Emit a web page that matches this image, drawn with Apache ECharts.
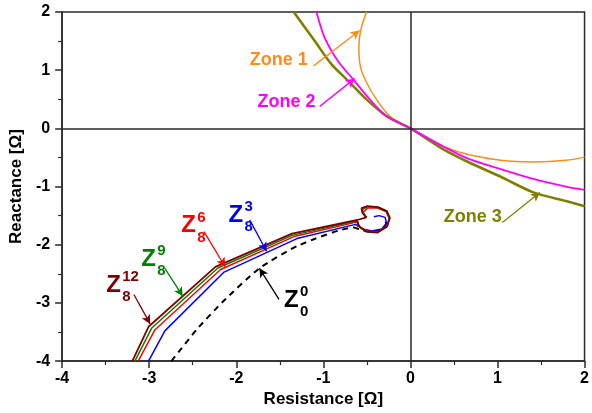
<!DOCTYPE html>
<html>
<head>
<meta charset="utf-8">
<script src="https://cdn.jsdelivr.net/npm/echarts@6/dist/echarts.min.js"></script>
<style>
html,body{margin:0;padding:0;background:#fff;}
#c{width:592px;height:413px;}
</style>
</head>
<body>
<div id="c"></div>
<script>
// Axis ticks
const xTicks = [-4, -3, -2, -1, 0, 1, 2];
const yTicks = [-4, -3, -2, -1, 0, 1, 2];

// Relay zone characteristics [R, X]
const zone1 = [[-0.506,2.0],[-0.573,1.67],[-0.592,1.39],[-0.573,1.052],[-0.498,0.771],[-0.386,0.489],[-0.236,0.209],[0,0],[0.2,-0.175],[0.401,-0.325],[0.663,-0.45],[1.037,-0.55],[1.412,-0.578],[1.787,-0.55],[2.0,-0.494]];
const zone2 = [[-1.079,2.0],[-0.985,1.558],[-0.835,1.164],[-0.648,0.826],[-0.461,0.489],[-0.273,0.209],[0,0],[0.401,-0.33],[0.663,-0.52],[1.037,-0.70],[1.412,-0.87],[1.787,-1.0],[2.0,-1.056]];
const zone3 = [[-1.34,2.0],[-1.098,1.5],[-0.91,1.108],[-0.722,0.826],[-0.498,0.489],[-0.273,0.209],[0,0],[0.40,-0.38],[0.663,-0.578],[1.037,-0.831],[1.412,-1.1],[1.787,-1.25],[2.0,-1.337]];

// Impedance trajectories [R, X]
const z00 = [[-2.745,-4.0],[-2.45,-3.45],[-2.146,-2.968],[-1.734,-2.405],[-1.284,-2.012],[-0.648,-1.703],[-0.573,-1.745],[-0.449,-1.776],[-0.336,-1.745],[-0.28,-1.65],[-0.29,-1.54]];
const z83 = [[-3.008,-4.0],[-2.82,-3.48],[-2.14,-2.47],[-1.303,-1.894],[-0.63,-1.65],[-0.55,-1.73],[-0.44,-1.765],[-0.33,-1.73],[-0.275,-1.63],[-0.29,-1.53],[-0.36,-1.50],[-0.42,-1.52]];
const z86 = [[-3.127,-4.0],[-2.933,-3.46],[-2.18,-2.425],[-1.337,-1.86],[-0.607,-1.607],[-0.58,-1.70],[-0.49,-1.77],[-0.37,-1.78],[-0.27,-1.68],[-0.245,-1.55],[-0.28,-1.43],[-0.38,-1.37],[-0.49,-1.37],[-0.55,-1.45],[-0.5,-1.53]];
const z89 = [[-3.165,-4.0],[-2.97,-3.43],[-2.21,-2.40],[-1.35,-1.835],[-0.607,-1.59],[-0.6,-1.68],[-0.5,-1.775],[-0.375,-1.785],[-0.265,-1.685],[-0.24,-1.545],[-0.275,-1.425],[-0.375,-1.36],[-0.49,-1.345],[-0.555,-1.4],[-0.51,-1.53]];
const z812 = [[-3.194,-4.0],[-3.008,-3.41],[-2.239,-2.38],[-1.36,-1.81],[-0.61,-1.575],[-0.506,-1.531],[-0.551,-1.455],[-0.562,-1.371],[-0.494,-1.337],[-0.371,-1.354],[-0.27,-1.422],[-0.236,-1.54],[-0.27,-1.691],[-0.382,-1.793],[-0.506,-1.776],[-0.596,-1.675],[-0.618,-1.574]];

const FONT = 'Arial, "Liberation Sans", sans-serif';

function arrow(from, to, color) {
  return [
    { coord: from, lineStyle: { color: color, width: 1.3, type: 'solid' } },
    { coord: to }
  ];
}

const chart = echarts.init(document.getElementById('c'), null, { renderer: 'canvas' });

const lineSeries = (name, data, color, width, extra) => Object.assign({
  name: name, type: 'line', data: data, showSymbol: false, symbol: 'none',
  clip: true, animation: false, silent: true,
  lineStyle: { color: color, width: width }
}, extra || {});

const mk = (items, color) => ({
  silent: true, animation: false, symbol: ['none', 'arrow'], symbolSize: [7, 9],
  label: { show: false },
  itemStyle: { color: color },
  lineStyle: { color: color, width: 1.3, type: 'solid' },
  data: items
});

const option = {
  animation: false,
  grid: { left: 55, right: 3, top: 12, bottom: 45, show: true, borderColor: '#2a2a2a', borderWidth: 1.5, backgroundColor: 'transparent' },
  xAxis: {
    type: 'value', min: xTicks[0], max: xTicks[xTicks.length - 1], interval: 1,
    axisLine: { show: true, onZero: false, lineStyle: { color: '#2a2a2a', width: 1.5 } },
    axisTick: { show: true, length: 7, lineStyle: { color: '#2a2a2a', width: 1.5 } },
    minorTick: { show: true, splitNumber: 2, length: 4, lineStyle: { color: '#2a2a2a', width: 1.2 } },
    splitLine: { show: false },
    axisLabel: { color: '#000', fontWeight: 'bold', fontSize: 16, fontFamily: FONT, margin: 9 },
    name: 'Resistance [Ω]', nameLocation: 'middle', nameGap: 28,
    nameTextStyle: { color: '#000', fontWeight: 'bold', fontSize: 17, fontFamily: FONT }
  },
  yAxis: {
    type: 'value', min: yTicks[0], max: yTicks[yTicks.length - 1], interval: 1,
    axisLine: { show: true, onZero: false, lineStyle: { color: '#2a2a2a', width: 1.5 } },
    axisTick: { show: true, length: 7, lineStyle: { color: '#2a2a2a', width: 1.5 } },
    minorTick: { show: true, splitNumber: 2, length: 4, lineStyle: { color: '#2a2a2a', width: 1.2 } },
    splitLine: { show: false },
    axisLabel: { color: '#000', fontWeight: 'bold', fontSize: 16, fontFamily: FONT, margin: 12 },
    name: 'Reactance [Ω]', nameLocation: 'middle', nameGap: 33,
    nameTextStyle: { color: '#000', fontWeight: 'bold', fontSize: 17, fontFamily: FONT }
  },
  series: [
    {
      name: 'axes0', type: 'scatter', data: [], silent: true, animation: false,
      markLine: {
        silent: true, animation: false, symbol: ['none', 'none'], label: { show: false },
        lineStyle: { color: '#2a2a2a', width: 1.5, type: 'solid' },
        data: [{ xAxis: 0 }, { yAxis: 0 }]
      }
    },
    lineSeries('Zone 1', zone1, '#ff8c1a', 1.5, { smooth: 0.3, markLine: mk([arrow([-1.112, 1.074], [-0.584, 1.681], '#ff8c1a')], '#ff8c1a') }),
    lineSeries('Zone 3', zone3, '#808000', 2.6, { smooth: 0.3, markLine: mk([arrow([1.056, -1.619], [1.487, -1.101], '#808000')], '#808000') }),
    lineSeries('Zone 2', zone2, '#ff00ff', 1.8, { smooth: 0.3, markLine: mk([arrow([-1.042, 0.378], [-0.640, 0.855], '#ff00ff')], '#ff00ff') }),
    lineSeries('Z00', z00, '#000000', 2, { lineStyle: { color: '#000', width: 2, type: [6, 5] }, smooth: 0.2, markLine: mk([arrow([-1.509, -2.939], [-1.734, -2.405], '#000')], '#000') }),
    lineSeries('Z83', z83, '#0000ff', 1.5, { markLine: mk([arrow([-1.846, -1.573], [-1.652, -2.113], '#0000ff')], '#0000ff') }),
    lineSeries('Z86', z86, '#ff0000', 1.5, { markLine: mk([arrow([-2.371, -1.776], [-2.127, -2.378], '#ff0000')], '#ff0000') }),
    lineSeries('Z89', z89, '#008000', 1.5, { markLine: mk([arrow([-2.82, -2.405], [-2.615, -2.884], '#008000')], '#008000') }),
    lineSeries('Z812', z812, '#800000', 1.8, { markLine: mk([arrow([-3.176, -2.855], [-2.989, -3.361], '#800000')], '#800000') })
  ]
};
chart.setOption(option);

// Text annotations placed in data coordinates
const zoneLabels = [
  { text: 'Zone 1', at: [-1.18, 1.175], color: '#ff8c1a', align: 'right' },
  { text: 'Zone 2', at: [-1.09, 0.45], color: '#ff00ff', align: 'right' },
  { text: 'Zone 3', at: [0.382, -1.523], color: '#808000', align: 'left' }
];
const zLabels = [
  { sup: '12', sub: '8', at: [-3.494, -2.695], color: '#800000' },
  { sup: '9', sub: '8', at: [-3.09, -2.248], color: '#008000' },
  { sup: '6', sub: '8', at: [-2.633, -1.675], color: '#ff0000' },
  { sup: '3', sub: '8', at: [-2.09, -1.489], color: '#0000ff' },
  { sup: '0', sub: '0', at: [-1.453, -2.956], color: '#000000' }
];
const P = (pt) => chart.convertToPixel({ gridIndex: 0 }, pt);
const els = [];
zoneLabels.forEach(l => {
  const p = P(l.at);
  els.push({ type: 'text', x: p[0], y: p[1], silent: true,
    style: { text: l.text, fill: l.color, font: 'bold 18px ' + FONT, textAlign: l.align, textVerticalAlign: 'middle', align: l.align, verticalAlign: 'middle' } });
});
zLabels.forEach(l => {
  const p = P(l.at);
  els.push({ type: 'text', x: p[0], y: p[1], silent: true,
    style: { text: 'Z', fill: l.color, font: 'bold 24px ' + FONT, textAlign: 'left', textVerticalAlign: 'middle', align: 'left', verticalAlign: 'middle' } });
  els.push({ type: 'text', x: p[0] + 16, y: p[1] - 8, silent: true,
    style: { text: l.sup, fill: l.color, font: 'bold 15px ' + FONT, textAlign: 'left', textVerticalAlign: 'middle', align: 'left', verticalAlign: 'middle' } });
  els.push({ type: 'text', x: p[0] + 16, y: p[1] + 12, silent: true,
    style: { text: l.sub, fill: l.color, font: 'bold 15px ' + FONT, textAlign: 'left', textVerticalAlign: 'middle', align: 'left', verticalAlign: 'middle' } });
});
chart.setOption({ graphic: { elements: els } });
</script>
</body>
</html>
